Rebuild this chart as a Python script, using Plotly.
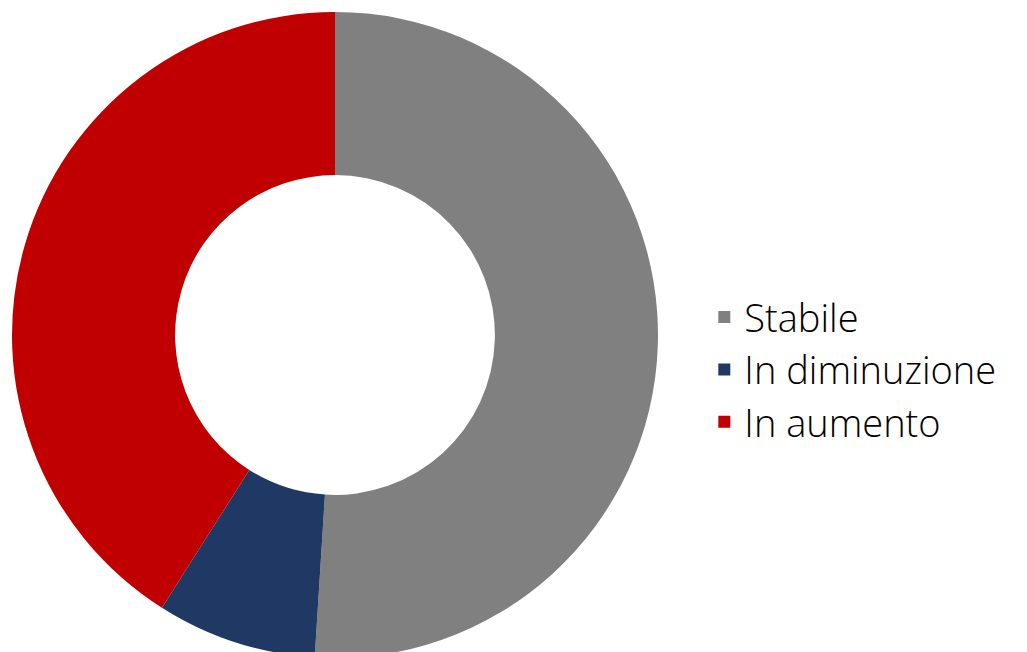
import plotly.graph_objects as go

labels = ["Stabile", "In diminuzione", "In aumento"]
values = [51, 8, 41]
colors = ["#808080", "#203864", "#C00000"]

W, H = 1027, 652
fig = go.Figure(go.Pie(
    labels=labels, values=values, hole=0.495, sort=False,
    direction="clockwise", rotation=0,
    marker=dict(colors=colors, line=dict(width=0)),
    textinfo="none", hoverinfo="label+percent",
    domain=dict(x=[4/W, 650/W], y=[2/H, 648/H]),
))
fig.update_layout(
    width=W, height=H,
    margin=dict(l=0, r=0, t=0, b=0),
    paper_bgcolor="white", plot_bgcolor="white",
    showlegend=True,
    legend=dict(x=0.678, y=0.445, xanchor="left", yanchor="middle",
                font=dict(family="Open Sans", size=38, color="#000000", weight=300),
                tracegroupgap=0, itemwidth=30),
)
fig.write_html("out.html")
